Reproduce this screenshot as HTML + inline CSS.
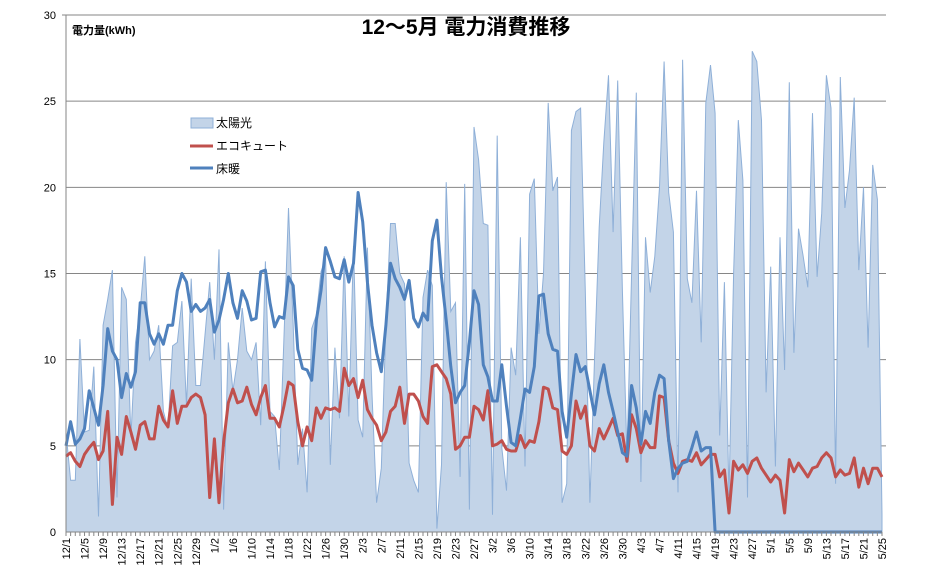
<!DOCTYPE html>
<html><head><meta charset="utf-8">
<style>
html,body{margin:0;padding:0;background:#fff;}
svg{display:block;font-family:"Liberation Sans","Noto Sans CJK JP",sans-serif;}
</style></head>
<body>
<svg id="chart" width="928" height="582" viewBox="0 0 928 582" xmlns="http://www.w3.org/2000/svg">
<text x="466" y="34" text-anchor="middle" font-size="21" font-weight="bold" fill="#000">12～5月  電力消費推移</text>
<text x="72" y="34" font-size="11" font-weight="bold" fill="#000">電力量(kWh)</text>
<g id="grid"></g>
<g id="marks"></g>
<g id="axes"></g>
<g>
  <rect x="191" y="118" width="22" height="10" fill="#c3d4e8" stroke="#8fb0d8"/>
  <text x="216" y="127" font-size="12" fill="#000">太陽光</text>
  <line x1="190" y1="146" x2="213" y2="146" stroke="#c0504d" stroke-width="3"/>
  <text x="216" y="150" font-size="12" fill="#000">エコキュート</text>
  <line x1="190" y1="168" x2="213" y2="168" stroke="#4f81bd" stroke-width="3"/>
  <text x="216" y="173" font-size="12" fill="#000">床暖</text>
</g>
</svg>
<script>
const yTicks = [0,5,10,15,20,25,30];
const solar = [5.8,3.0,3.0,11.2,5.8,5.9,9.6,0.9,12.0,13.5,15.2,2.0,14.2,13.5,5.5,11.0,12.9,16.0,10.0,10.5,12.0,7.0,6.0,10.8,11.0,13.4,7.3,14.7,8.5,8.5,11.5,
14.5,10.0,16.4,1.3,11.0,8.2,10.0,13.0,10.5,10.0,11.0,6.2,15.7,7.0,6.7,3.6,11.2,18.8,12.0,3.9,6.0,2.3,11.8,12.6,15.1,15.9,3.9,10.7,6.6,16.0,6.7,
16.6,6.5,5.5,16.5,8.0,1.7,3.7,12.0,17.9,17.9,15.0,14.4,4.0,3.0,2.3,13.6,15.2,14.3,0.2,3.9,20.3,12.8,13.3,3.2,20.2,1.3,23.5,21.6,17.9,
17.8,1.0,23.0,4.9,2.4,10.7,9.1,17.1,3.8,19.6,20.5,11.5,15.0,24.9,19.8,20.6,1.7,2.8,23.3,24.4,24.6,14.0,1.7,10.0,17.7,22.6,26.5,17.4,26.2,14.0,4.4,
15.0,25.5,2.9,17.1,13.9,16.0,20.0,27.3,19.7,17.4,2.3,27.4,14.7,13.3,19.8,11.0,24.9,27.1,24.3,5.6,14.5,2.1,15.0,23.9,20.4,2.0,27.9,27.3,23.9,8.1,
15.4,3.8,17.1,9.4,26.1,10.4,17.6,16.0,14.2,24.3,14.8,18.5,26.5,24.6,2.8,26.4,18.8,21.0,25.2,15.2,20.0,10.7,21.3,19.3,1.0];
const ecocute = [4.4,4.6,4.1,3.8,4.5,4.9,5.2,4.2,4.7,7.0,1.6,5.5,4.5,6.7,5.8,4.8,6.2,6.4,5.4,5.4,7.3,6.5,6.1,8.2,6.3,7.3,7.3,7.8,8.0,7.8,6.8,
2.0,5.4,1.7,5.2,7.5,8.3,7.5,7.6,8.4,7.4,6.8,7.8,8.5,6.6,6.6,6.1,7.3,8.7,8.5,6.4,5.0,6.1,5.3,7.2,6.6,7.2,7.1,7.2,7.0,9.5,8.5,
8.9,7.8,8.8,7.1,6.6,6.2,5.3,5.8,7.0,7.3,8.4,6.3,8.0,8.0,7.6,6.7,6.3,9.6,9.7,9.3,8.9,8.0,4.8,5.0,5.5,5.5,7.3,7.1,6.5,
8.2,5.0,5.1,5.3,4.8,4.7,4.7,5.6,4.9,5.3,5.2,6.4,8.4,8.3,7.2,7.1,4.7,4.5,5.0,7.6,6.6,7.3,5.0,4.7,6.0,5.4,6.0,6.6,5.6,5.7,4.1,
6.8,6.0,4.6,5.3,4.9,4.9,7.9,7.8,5.3,4.0,3.4,4.1,4.2,4.1,4.6,3.9,4.2,4.5,4.5,3.2,3.6,1.1,4.1,3.6,3.9,3.4,4.1,4.3,3.7,3.3,
2.9,3.3,3.0,1.1,4.2,3.5,4.0,3.6,3.2,3.7,3.8,4.3,4.6,4.3,3.2,3.6,3.3,3.4,4.3,2.6,3.7,2.8,3.7,3.7,3.2];
const floorHeat = [5.0,6.4,5.1,5.4,6.0,8.2,7.2,6.2,8.5,11.8,10.5,10.0,7.8,9.2,8.4,9.3,13.3,13.3,11.5,10.9,11.5,10.9,12.0,12.0,14.0,15.0,14.5,12.8,13.2,12.8,13.0,
13.5,11.6,12.3,13.5,15.0,13.3,12.4,14.0,13.4,12.3,12.4,15.1,15.2,13.3,11.9,12.5,12.4,14.8,14.3,10.6,9.5,9.4,8.8,12.3,14.0,16.5,15.7,14.8,14.7,15.8,14.5,
15.6,19.7,18.0,14.5,12.0,10.4,9.3,12.0,15.6,14.7,14.2,13.5,14.6,12.4,11.9,12.7,12.3,16.9,18.1,14.8,12.3,9.6,7.5,8.1,8.5,11.0,14.0,13.2,9.7,
9.0,7.6,7.6,9.7,7.3,5.2,5.0,6.6,8.3,8.1,9.6,13.7,13.8,11.5,10.6,10.5,7.0,5.5,8.0,10.3,9.3,9.6,8.2,6.8,8.6,9.7,8.1,7.0,5.8,4.6,4.4,
8.5,7.2,5.1,7.0,6.3,8.1,9.1,8.9,5.3,3.1,3.7,4.0,4.1,4.9,5.8,4.7,4.9,4.9,0,0,0,0,0,0,0,0,0,0,0,0,
0,0,0,0,0,0,0,0,0,0,0,0,0,0,0,0,0,0,0,0,0,0,0,0,0];
const monthLengths = [[12,31],[1,31],[2,29],[3,31],[4,30],[5,25]];
const dateLabels = [];
monthLengths.forEach(function(m){for(let d=1;d<=m[1];d++){dateLabels.push(m[0]+'/'+d);}});

const NS='http://www.w3.org/2000/svg';
const X0=66, X1=882, Y0=532, Y1=15, YMAX=30;
const nPts=dateLabels.length;
function xs(i){return X0+i*(X1-X0)/(nPts-1);}
function ys(v){return Y0-v*(Y0-Y1)/YMAX;}
function mk(tag,attrs,parent){const e=document.createElementNS(NS,tag);for(const k in attrs)e.setAttribute(k,attrs[k]);parent.appendChild(e);return e;}
const gridG=document.getElementById('grid'), marksG=document.getElementById('marks'), axesG=document.getElementById('axes');

yTicks.forEach(function(t){
  if(t>0){const l=mk('line',{x1:X0,x2:X1+4,y1:ys(t),y2:ys(t),stroke:'#868686','stroke-width':1},gridG);
  
  }
  const tx=mk('text',{x:56,y:ys(t)+4,'text-anchor':'end','font-size':11,fill:'#000'},axesG);
  tx.textContent=t;
  
  
});

let areaD='M'+xs(0)+','+ys(0);
solar.forEach(function(v,i){areaD+=' L'+xs(i).toFixed(1)+','+ys(v).toFixed(1);});
areaD+=' L'+xs(solar.length-1)+','+ys(0)+' Z';
const area=mk('path',{d:areaD,fill:'#c3d4e8',stroke:'#8fb0d8','stroke-width':1},marksG);



function drawLine(arr,color,name){
  const pts=arr.map(function(v,i){return xs(i).toFixed(1)+','+ys(v).toFixed(1);}).join(' ');
  const p=mk('polyline',{points:pts,fill:'none',stroke:color,'stroke-width':3,'stroke-linejoin':'round'},marksG);
  
  
}
drawLine(ecocute,'#c0504d','ecocute-line');
drawLine(floorHeat,'#4f81bd','floor-heating-line');

const yAxisLine=mk('line',{x1:X0,x2:X0,y1:Y1,y2:Y0,stroke:'#868686','stroke-width':1},axesG);


const xAxisLine=mk('line',{x1:X0,x2:X1,y1:Y0,y2:Y0,stroke:'#868686','stroke-width':1},axesG);


const topLine=mk('line',{x1:X0-4,x2:X1+4,y1:Y1,y2:Y1,stroke:'#868686','stroke-width':1},axesG);



dateLabels.forEach(function(lab,i){
  const tk=mk('line',{x1:xs(i),x2:xs(i),y1:Y0,y2:Y0+4,stroke:'#868686','stroke-width':1},axesG);
  
  
  if(i%4===0){
    const x=xs(i)+4, y=Y0+6;
    const t=mk('text',{x:x,y:y,'text-anchor':'end','font-size':11,fill:'#000',transform:'rotate(-90 '+x+' '+y+')'},axesG);
    t.textContent=lab;
    
    
  }
});
</script>
</body></html>
